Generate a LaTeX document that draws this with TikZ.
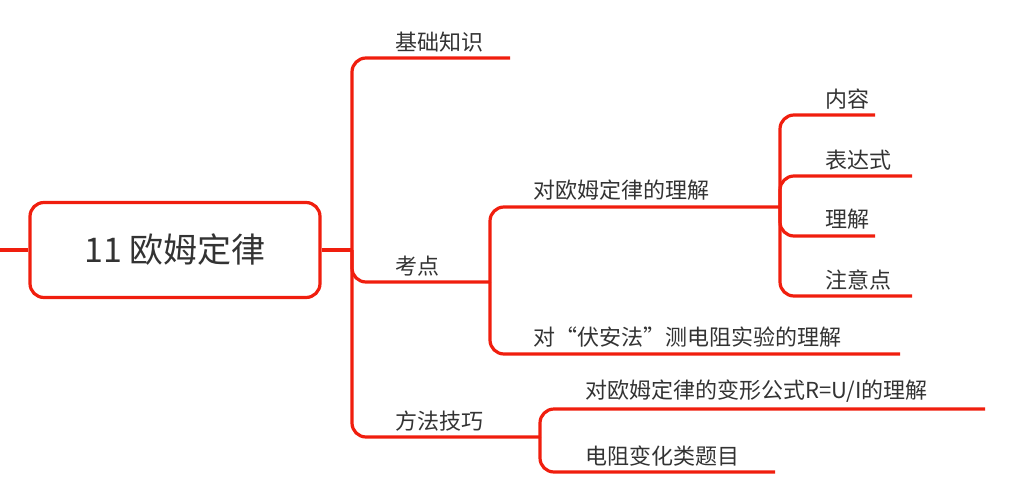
\documentclass[tikz,border=0pt]{standalone}
\usepackage{fontspec}
\setmainfont{Noto Sans CJK SC}
\begin{document}
\begin{tikzpicture}[x=1pt,y=-1pt,
  br/.style={draw=red!85!black, line width=3.2pt, rounded corners=14pt},
  lbl/.style={anchor=south west, inner sep=0pt, text=black!80, font=\fontsize{22}{24}\selectfont}]
\useasboundingbox (0,0) rectangle (1027,501);
\definecolor{rl}{HTML}{F01E0E}
\tikzset{br/.append style={draw=rl}}
\node[draw=rl, line width=3.2pt, rounded corners=14pt, minimum width=290pt, minimum height=95pt, text=black!80, font=\fontsize{34}{36}\selectfont] (root) at (175,250) {11 欧姆定律};
\coordinate (L) at (0,250);
\draw[br] (L) -- (root.west);
\coordinate (s1) at (352,250);
\draw[br] (root.east) -- (s1);
% level 1
\coordinate (a1) at (510,58);
\coordinate (a2) at (490,282);
\coordinate (a3) at (540,437);
\draw[br] (s1) |- (a1);
\draw[br] (s1) |- (a2);
\draw[br] (s1) |- (a3);
\node[lbl] (t1) at (395,52) {基础知识};
\node[lbl] (t2) at (395,276) {考点};
\node[lbl] (t3) at (395,431) {方法技巧};
% kaodian
\coordinate (b1) at (780,207);
\coordinate (b2) at (900,354);
\draw[br] (a2) |- (b1);
\draw[br] (a2) |- (b2);
\node[lbl] (u1) at (533,201) {对欧姆定律的理解};
\node[lbl] (u2) at (533,348) {对“伏安法”测电阻实验的理解};
% level 3
\coordinate (c1) at (875,115);
\coordinate (c2) at (912,176);
\coordinate (c3) at (875,236);
\coordinate (c4) at (912,296);
\foreach \c in {c1,c2,c3,c4} \draw[br] (b1) |- (\c);
\node[lbl] (v1) at (825,109) {内容};
\node[lbl] (v2) at (825,170) {表达式};
\node[lbl] (v3) at (825,230) {理解};
\node[lbl] (v4) at (825,290) {注意点};
% method
\coordinate (d1) at (985,409);
\coordinate (d2) at (775,472);
\draw[br] (a3) |- (d1);
\draw[br] (a3) |- (d2);
\node[lbl] (w1) at (585,403) {对欧姆定律的变形公式R=U/I的理解};
\node[lbl] (w2) at (585,466) {电阻变化类题目};
\end{tikzpicture}
\end{document}
